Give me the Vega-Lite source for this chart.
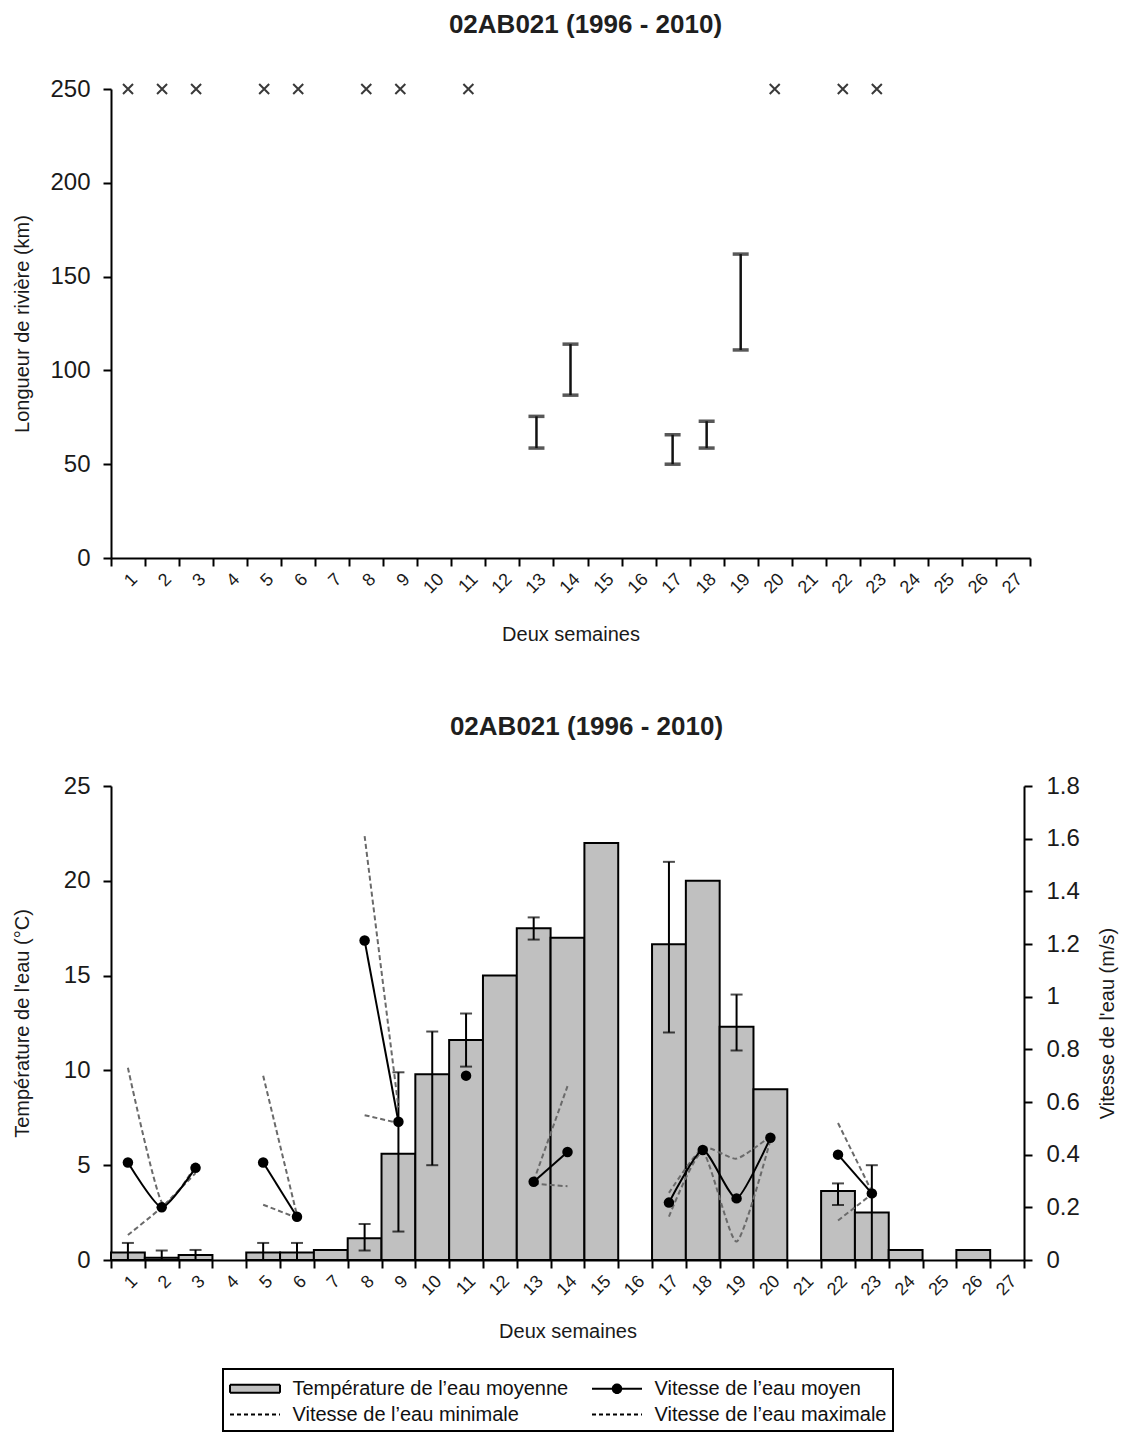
{
  "$schema": "https://vega.github.io/schema/vega-lite/v6.json",
  "background": "white",
  "padding": {"left": 12, "top": 12, "right": 2, "bottom": 2},
  "spacing": 69,
  "config": {
    "font": "Liberation Sans",
    "view": {"stroke": null},
    "axis": {
      "domainColor": "black", "domainWidth": 2, "tickColor": "black", "tickWidth": 2, "tickSize": 8,
      "labelFont": "Liberation Sans", "labelColor": "#1a1a1a", "titleFont": "Liberation Sans",
      "titleFontWeight": "normal", "titleColor": "#1a1a1a", "grid": false
    },
    "title": {"font": "Liberation Sans", "fontSize": 26, "fontWeight": "bold", "color": "#1f1f1f"}
  },
  "datasets": {
    "longueur": [
      {"periode": 1, "marqueur": 250},
      {"periode": 2, "marqueur": 250},
      {"periode": 3, "marqueur": 250},
      {"periode": 5, "marqueur": 250},
      {"periode": 6, "marqueur": 250},
      {"periode": 8, "marqueur": 250},
      {"periode": 9, "marqueur": 250},
      {"periode": 11, "marqueur": 250},
      {"periode": 13, "km_min": 58.6, "km_max": 75.5},
      {"periode": 14, "km_min": 86.8, "km_max": 114},
      {"periode": 17, "km_min": 50, "km_max": 65.7},
      {"periode": 18, "km_min": 58.6, "km_max": 72.9},
      {"periode": 19, "km_min": 110.9, "km_max": 162},
      {"periode": 20, "marqueur": 250},
      {"periode": 22, "marqueur": 250},
      {"periode": 23, "marqueur": 250}
    ],
    "eau": [
      {"periode": 1, "temp": 0.4, "temp_lo": 0, "temp_hi": 0.9, "v_moy": 0.37, "v_min": 0.095, "v_max": 0.73, "seg": "A"},
      {"periode": 2, "temp": 0.12, "temp_lo": 0, "temp_hi": 0.5, "v_moy": 0.2, "v_min": 0.2, "v_max": 0.22, "seg": "A"},
      {"periode": 3, "temp": 0.26, "temp_lo": 0, "temp_hi": 0.53, "v_moy": 0.35, "v_min": 0.33, "v_max": 0.36, "seg": "A"},
      {"periode": 5, "temp": 0.4, "temp_lo": 0, "temp_hi": 0.9, "v_moy": 0.37, "v_min": 0.21, "v_max": 0.7, "seg": "B"},
      {"periode": 6, "temp": 0.4, "temp_lo": 0, "temp_hi": 0.9, "v_moy": 0.164, "v_min": 0.16, "v_max": 0.17, "seg": "B"},
      {"periode": 7, "temp": 0.53},
      {"periode": 8, "temp": 1.15, "temp_lo": 0.5, "temp_hi": 1.9, "v_moy": 1.213, "v_min": 0.55, "v_max": 1.61, "seg": "C"},
      {"periode": 9, "temp": 5.6, "temp_lo": 1.5, "temp_hi": 9.9, "v_moy": 0.525, "v_min": 0.52, "v_max": 0.58, "seg": "C"},
      {"periode": 10, "temp": 9.8, "temp_lo": 5.0, "temp_hi": 12.05},
      {"periode": 11, "temp": 11.6, "temp_lo": 10.2, "temp_hi": 13.0, "v_moy": 0.7, "seg": "D"},
      {"periode": 12, "temp": 15.0},
      {"periode": 13, "temp": 17.5, "temp_lo": 16.9, "temp_hi": 18.07, "v_moy": 0.297, "v_min": 0.29, "v_max": 0.3, "seg": "E"},
      {"periode": 14, "temp": 17.0, "v_moy": 0.41, "v_min": 0.28, "v_max": 0.66, "seg": "E"},
      {"periode": 15, "temp": 22.0},
      {"periode": 17, "temp": 16.65, "temp_lo": 12.0, "temp_hi": 21.0, "v_moy": 0.218, "v_min": 0.165, "v_max": 0.255, "seg": "F"},
      {"periode": 18, "temp": 20.0, "v_moy": 0.418, "v_min": 0.41, "v_max": 0.425, "seg": "F"},
      {"periode": 19, "temp": 12.3, "temp_lo": 11.05, "temp_hi": 14.0, "v_moy": 0.234, "v_min": 0.07, "v_max": 0.385, "seg": "F"},
      {"periode": 20, "temp": 9.0, "v_moy": 0.464, "v_min": 0.455, "v_max": 0.47, "seg": "F"},
      {"periode": 22, "temp": 3.64, "temp_lo": 2.9, "temp_hi": 4.04, "v_moy": 0.4, "v_min": 0.15, "v_max": 0.52, "seg": "G"},
      {"periode": 23, "temp": 2.5, "temp_lo": 0, "temp_hi": 5.0, "v_moy": 0.253, "v_min": 0.25, "v_max": 0.26, "seg": "G"},
      {"periode": 24, "temp": 0.53},
      {"periode": 26, "temp": 0.53}
    ]
  },
  "vconcat": [
    {
      "title": {"text": "02AB021 (1996 - 2010)", "offset": 39, "dx": 15},
      "width": 919,
      "height": 469,
      "data": {"name": "longueur"},
      "encoding": {
        "x": {
          "field": "periode", "type": "ordinal", "title": "Deux semaines",
          "scale": {"domain": [1,2,3,4,5,6,7,8,9,10,11,12,13,14,15,16,17,18,19,20,21,22,23,24,25,26,27], "paddingInner": 0, "paddingOuter": 0},
          "axis": {"tickBand": "extent", "labelAngle": -45, "labelFontSize": 18, "labelPadding": 4, "titleFontSize": 20, "titlePadding": 28}
        }
      },
      "layer": [
        {
          "transform": [{"filter": "isValid(datum.km_min)"}],
          "mark": {"type": "errorbar", "color": "#111111", "ticks": {"size": 16, "thickness": 3.5}, "rule": {"strokeWidth": 2.5}},
          "encoding": {
            "y": {
              "field": "km_min", "type": "quantitative", "title": "Longueur de rivière (km)",
              "scale": {"domain": [0, 250], "nice": false},
              "axis": {"values": [0, 50, 100, 150, 200, 250], "labelFontSize": 24, "labelPadding": 13, "titleFontSize": 20, "titlePadding": 16, "minExtent": 63, "maxExtent": 63}
            },
            "y2": {"field": "km_max"}
          }
        },
        {
          "transform": [{"filter": "isValid(datum.marqueur)"}],
          "mark": {"type": "point", "shape": "M-1,-1L1,1M-1,1L1,-1", "filled": false, "stroke": "#3a3a3a", "strokeWidth": 2, "size": 100, "opacity": 1},
          "encoding": {
            "y": {"field": "marqueur", "type": "quantitative", "title": "Longueur de rivière (km)"}
          }
        }
      ]
    },
    {
      "title": {"text": "02AB021 (1996 - 2010)", "offset": 34, "dx": 19},
      "width": 913,
      "height": 474,
      "data": {"name": "eau"},
      "encoding": {
        "x": {
          "field": "periode", "type": "ordinal", "title": "Deux semaines",
          "scale": {"domain": [1,2,3,4,5,6,7,8,9,10,11,12,13,14,15,16,17,18,19,20,21,22,23,24,25,26,27], "paddingInner": 0, "paddingOuter": 0},
          "axis": {"tickBand": "extent", "labelAngle": -45, "labelFontSize": 18, "labelPadding": 4, "titleFontSize": 20, "titlePadding": 23}
        }
      },
      "layer": [
        {
          "layer": [
            {
              "transform": [{"filter": "isValid(datum.temp)"}],
              "mark": {"type": "bar", "stroke": "black", "strokeWidth": 2},
              "encoding": {
                "y": {
                  "field": "temp", "type": "quantitative", "title": "Température de l'eau (°C)",
                  "scale": {"domain": [0, 25], "nice": false},
                  "axis": {"values": [0, 5, 10, 15, 20, 25], "labelFontSize": 24, "labelPadding": 13, "titleFontSize": 20, "titlePadding": 16, "minExtent": 63, "maxExtent": 63}
                },
                "fill": {
                  "datum": "Température de l’eau moyenne", "type": "nominal",
                  "scale": {
                    "domain": ["Température de l’eau moyenne", "Vitesse de l’eau moyen", "Vitesse de l’eau minimale", "Vitesse de l’eau maximale"],
                    "range": ["#c0c0c0", "#000000", "#ffffff", "#ffffff"]
                  },
                  "legend": {
                    "title": null,
                    "orient": "none",
                    "legendX": 112,
                    "legendY": 583,
                    "columns": 2,
                    "direction": "horizontal",
                    "symbolSize": 625,
                    "symbolOffset": 12.5,
                    "labelOffset": 24,
                    "labelFontSize": 20,
                    "labelFont": "Liberation Sans",
                    "labelColor": "#111111",
                    "labelLimit": 400,
                    "columnPadding": 19,
                    "rowPadding": 2,
                    "padding": 6,
                    "strokeColor": "black",
                    "encoding": {
                      "legend": {"strokeWidth": {"value": 2}},
                      "symbols": {
                        "shape": {"value": {"expr": "datum.value === 'Température de l’eau moyenne' ? 'M-2,-0.32H2V0.32H-2Z' : (datum.value === 'Vitesse de l’eau moyen' ? 'M-2,0H2M0.34,0A0.34,0.34 0 1 1 -0.34,0A0.34,0.34 0 1 1 0.34,0' : 'M-2,0H2')"}},
                        "size": {"value": 625},
                        "fill": {"value": {"expr": "datum.value === 'Température de l’eau moyenne' ? '#c0c0c0' : (datum.value === 'Vitesse de l’eau moyen' ? 'black' : 'transparent')"}},
                        "stroke": {"value": "black"},
                        "strokeWidth": {"value": 2},
                        "strokeDash": {"value": {"expr": "indexof(datum.value, 'imale') >= 0 ? [4, 3] : [1, 0]"}},
                        "opacity": {"value": 1}
                      }
                    }
                  }
                }
              }
            },
            {
              "transform": [{"filter": "isValid(datum.temp_lo)"}],
              "mark": {"type": "errorbar", "color": "black", "ticks": {"size": 12, "thickness": 2}, "rule": {"strokeWidth": 2}},
              "encoding": {
                "y": {"field": "temp_lo", "type": "quantitative", "title": "Température de l'eau (°C)"},
                "y2": {"field": "temp_hi"}
              }
            }
          ]
        },
        {
          "layer": [
            {
              "transform": [{"filter": "isValid(datum.v_max)"}],
              "mark": {"type": "line", "stroke": "#6a6a6a", "strokeWidth": 2, "strokeDash": [5, 3], "interpolate": "cardinal", "tension": 0.4},
              "encoding": {
                "y": {
                  "field": "v_max", "type": "quantitative", "title": "Vitesse de l'eau (m/s)",
                  "scale": {"domain": [0, 1.8], "nice": false},
                  "axis": {"orient": "right", "values": [0, 0.2, 0.4, 0.6, 0.8, 1, 1.2, 1.4, 1.6, 1.8], "format": "~g", "labelFontSize": 24, "labelPadding": 14, "titleFontSize": 20, "titlePadding": 16, "titleAngle": 270, "titleBaseline": "top", "minExtent": 57, "maxExtent": 57}
                },
                "detail": {"field": "seg"}
              }
            },
            {
              "transform": [{"filter": "isValid(datum.v_min)"}],
              "mark": {"type": "line", "stroke": "#6a6a6a", "strokeWidth": 2, "strokeDash": [5, 3], "interpolate": "cardinal", "tension": 0.4},
              "encoding": {
                "y": {"field": "v_min", "type": "quantitative", "title": "Vitesse de l'eau (m/s)"},
                "detail": {"field": "seg"}
              }
            },
            {
              "transform": [{"filter": "isValid(datum.v_moy)"}],
              "mark": {"type": "line", "stroke": "black", "strokeWidth": 2, "interpolate": "cardinal", "tension": 0.4},
              "encoding": {
                "y": {"field": "v_moy", "type": "quantitative", "title": "Vitesse de l'eau (m/s)"},
                "detail": {"field": "seg"}
              }
            },
            {
              "transform": [{"filter": "isValid(datum.v_moy)"}],
              "mark": {"type": "point", "filled": true, "color": "black", "size": 110, "opacity": 1},
              "encoding": {
                "y": {"field": "v_moy", "type": "quantitative", "title": "Vitesse de l'eau (m/s)"}
              }
            }
          ]
        }
      ],
      "resolve": {"scale": {"y": "independent", "fill": "independent"}}
    }
  ]
}
